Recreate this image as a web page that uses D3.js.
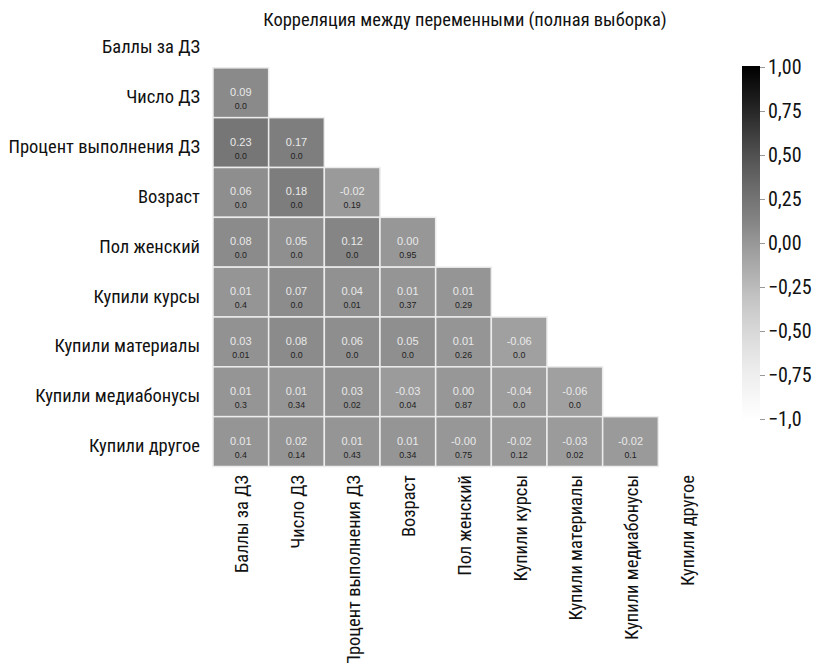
<!DOCTYPE html>
<html>
<head>
<meta charset="utf-8">
<script src="https://cdn.jsdelivr.net/npm/d3@7"></script>
<style>
  html, body { margin: 0; padding: 0; background: #fff; }
  svg { display: block; }
  .lbl { font-family: "Liberation Sans Narrow", "Roboto Condensed", "DejaVu Sans Condensed", sans-serif; fill: #111; }
  .cell-txt { font-family: "Liberation Sans", Arial, sans-serif; }
</style>
</head>
<body>
<svg id="chart" width="819" height="663"></svg>
<script>
// Variable names (same order for rows and columns)
const variables = [
  "Баллы за ДЗ", "Число ДЗ", "Процент выполнения ДЗ", "Возраст", "Пол женский",
  "Купили курсы", "Купили материалы", "Купили медиабонусы", "Купили другое"
];

// Lower-triangle correlations, one array per row (row i has i values)
const corrRows = [
  [],
  [0.09],
  [0.23, 0.17],
  [0.06, 0.18, -0.02],
  [0.08, 0.05, 0.12, 0.00],
  [0.01, 0.07, 0.04, 0.01, 0.01],
  [0.03, 0.08, 0.06, 0.05, 0.01, -0.06],
  [0.01, 0.01, 0.03, -0.03, 0.00, -0.04, -0.06],
  [0.01, 0.02, 0.01, 0.01, -0.004, -0.02, -0.03, -0.02]
];

// Matching p-values
const pRows = [
  [],
  [0.0],
  [0.0, 0.0],
  [0.0, 0.0, 0.19],
  [0.0, 0.0, 0.0, 0.95],
  [0.4, 0.0, 0.01, 0.37, 0.29],
  [0.01, 0.0, 0.0, 0.0, 0.26, 0.0],
  [0.3, 0.34, 0.02, 0.04, 0.87, 0.0, 0.0],
  [0.4, 0.14, 0.43, 0.34, 0.75, 0.12, 0.02, 0.1]
];

const colorbarTicks = [1, 0.75, 0.5, 0.25, 0, -0.25, -0.5, -0.75, -1];
const colorbarTickLabels = ["1,00", "0,75", "0,50", "0,25", "0,00", "\u22120,25", "\u22120,50", "\u22120,75", "\u22121,0"];

const title = "Корреляция между переменными (полная выборка)";

const svg = d3.select("#chart");

const x = d3.scaleBand().domain(variables).range([213, 714]).padding(0);
const y = d3.scaleBand().domain(variables).range([18, 466.5]).padding(0);
const color = d3.scaleSequential(d3.interpolateGreys).domain([-1, 1]);

// Title
svg.append("text").attr("class", "lbl")
  .attr("x", 465).attr("y", 26)
  .attr("text-anchor", "middle")
  .style("font-size", "18.5px")
  .text(title);

// Flatten triangle into cell records
const cells = [];
corrRows.forEach((row, i) => {
  row.forEach((v, j) => {
    cells.push({ r: variables[i], c: variables[j], v, p: pRows[i][j] });
  });
});

const g = svg.append("g");
const cellG = g.selectAll("g.cell").data(cells).join("g").attr("class", "cell");

cellG.append("rect")
  .attr("x", d => x(d.c))
  .attr("y", d => y(d.r))
  .attr("width", x.bandwidth())
  .attr("height", y.bandwidth())
  .attr("fill", d => color(d.v))
  .attr("stroke", "#ececec")
  .attr("stroke-width", 1.5);

cellG.append("text").attr("class", "cell-txt")
  .attr("x", d => x(d.c) + x.bandwidth() / 2)
  .attr("y", d => y(d.r) + y.bandwidth() / 2 + 3)
  .attr("text-anchor", "middle")
  .style("font-size", "11px")
  .attr("fill", "#e9e9e9")
  .text(d => d.v.toFixed(2));

cellG.append("text").attr("class", "cell-txt")
  .attr("x", d => x(d.c) + x.bandwidth() / 2)
  .attr("y", d => y(d.r) + y.bandwidth() / 2 + 16)
  .attr("text-anchor", "middle")
  .style("font-size", "8.8px")
  .attr("fill", "#222")
  .text(d => d.p === 0 ? "0.0" : String(d.p));

// Row labels
svg.append("g").selectAll("text").data(variables).join("text")
  .attr("class", "lbl")
  .attr("x", 200)
  .attr("y", d => y(d) + y.bandwidth() / 2 + 10.5)
  .attr("text-anchor", "end")
  .style("font-size", "18.5px")
  .text(d => d);

// Column labels, rotated
svg.append("g").selectAll("text").data(variables).join("text")
  .attr("class", "lbl")
  .attr("transform", d => `translate(${x(d) + x.bandwidth() / 2 + 7.5},475) rotate(-90)`)
  .attr("text-anchor", "end")
  .style("font-size", "18.5px")
  .text(d => d);

// Colorbar
const cbX = 742, cbW = 18;
const cbY = d3.scaleLinear().domain([1, -1]).range([67, 419]);
const defs = svg.append("defs");
const grad = defs.append("linearGradient").attr("id", "cbGrad")
  .attr("x1", 0).attr("y1", 0).attr("x2", 0).attr("y2", 1);
d3.range(0, 1.0001, 0.05).forEach(t => {
  grad.append("stop").attr("offset", t).attr("stop-color", color(1 - 2 * t));
});
svg.append("rect")
  .attr("x", cbX).attr("y", cbY(1) - 1)
  .attr("width", cbW).attr("height", cbY(-1) - cbY(1) + 2)
  .attr("fill", "url(#cbGrad)");

const cbAxis = d3.axisRight(cbY)
  .tickValues(colorbarTicks)
  .tickSize(5)
  .tickPadding(3)
  .tickFormat((d, i) => colorbarTickLabels[i]);
const axG = svg.append("g").attr("transform", `translate(${cbX + cbW},0)`).call(cbAxis);
axG.select(".domain").remove();
axG.selectAll(".tick line").attr("stroke", "#999");
axG.selectAll(".tick text").attr("class", "lbl")
  .style("font-size", "20px").attr("fill", "#111");
</script>
</body>
</html>
